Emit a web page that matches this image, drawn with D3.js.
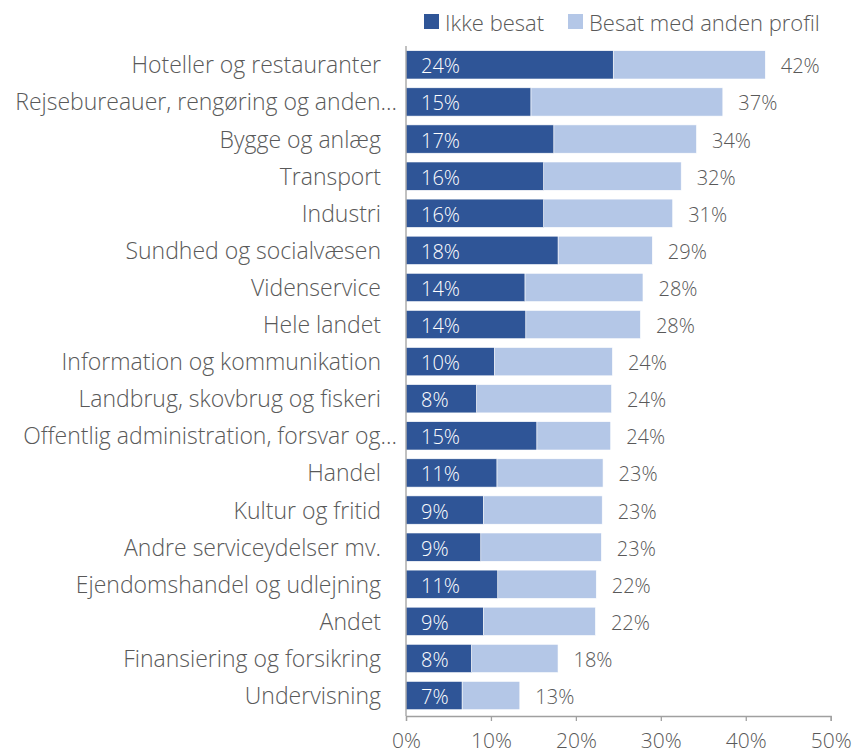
<!DOCTYPE html>
<html>
<head>
<meta charset="utf-8">
<script src="https://cdn.jsdelivr.net/npm/d3@7"></script>
<style>
  html, body { margin: 0; padding: 0; background: #fff; }
  svg { display: block; font-family: "Open Sans", sans-serif; font-weight: 300; }
</style>
</head>
<body>
<svg id="chart" width="854" height="755"></svg>
<script>
const categories = [
  "Hoteller og restauranter",
  "Rejsebureauer, rengøring og anden…",
  "Bygge og anlæg",
  "Transport",
  "Industri",
  "Sundhed og socialvæsen",
  "Videnservice",
  "Hele landet",
  "Information og kommunikation",
  "Landbrug, skovbrug og fiskeri",
  "Offentlig administration, forsvar og…",
  "Handel",
  "Kultur og fritid",
  "Andre serviceydelser mv.",
  "Ejendomshandel og udlejning",
  "Andet",
  "Finansiering og forsikring",
  "Undervisning"
];
// share "Ikke besat" (dark segment), percent
const ikkeBesat = [24.4, 14.7, 17.4, 16.2, 16.2, 17.9, 14.0, 14.1, 10.4, 8.3, 15.4, 10.7, 9.1, 8.8, 10.8, 9.1, 7.7, 6.6];
// total share ("Ikke besat" + "Besat med anden profil"), percent
const total = [42.3, 37.3, 34.2, 32.4, 31.4, 29.0, 27.9, 27.6, 24.3, 24.2, 24.1, 23.2, 23.1, 23.0, 22.4, 22.3, 17.9, 13.4];
const seriesNames = ["Ikke besat", "Besat med anden profil"];
const xTicks = [0, 10, 20, 30, 40, 50];

const colors = ["#2F5597", "#B4C7E7"];
const textColor = "#595959";

const svg = d3.select("#chart");
const x0 = 406, x1 = 830.7;
const x = d3.scaleLinear().domain([0, 50]).range([x0, x1]);
const y = d3.scaleBand().domain(categories).range([46.3, 714.1]).paddingInner(0.237).paddingOuter(0.1185);

const rows = categories.map((c, i) => ({ c, dark: ikkeBesat[i], tot: total[i] }));

// bars
const g = svg.append("g");
g.selectAll("rect.light").data(rows).join("rect")
  .attr("class", "light")
  .attr("x", d => x(d.dark)).attr("y", d => y(d.c))
  .attr("width", d => x(d.tot) - x(d.dark)).attr("height", y.bandwidth())
  .attr("fill", colors[1]).attr("stroke", "#fff").attr("stroke-width", 0.6);
g.selectAll("rect.dark").data(rows).join("rect")
  .attr("class", "dark")
  .attr("x", x(0)).attr("y", d => y(d.c))
  .attr("width", d => x(d.dark) - x(0)).attr("height", y.bandwidth())
  .attr("fill", colors[0]).attr("stroke", "#fff").attr("stroke-width", 0.6);

// value labels
g.selectAll("text.dv").data(rows).join("text")
  .attr("class", "dv")
  .attr("x", x(0) + 15).attr("y", d => y(d.c) + y.bandwidth() / 2 + 8.5)
  .attr("fill", "#fff").attr("font-size", 20)
  .text(d => Math.round(d.dark) + "%");
g.selectAll("text.tv").data(rows).join("text")
  .attr("class", "tv")
  .attr("x", d => x(d.tot) + 15.5).attr("y", d => y(d.c) + y.bandwidth() / 2 + 8.5)
  .attr("fill", textColor).attr("font-size", 20)
  .text(d => Math.round(d.tot) + "%");

// category labels
g.selectAll("text.cat").data(rows).join("text")
  .attr("class", "cat")
  .attr("x", d => d.c.endsWith("…") ? 397 : 381)
  .attr("y", d => y(d.c) + y.bandwidth() / 2 + 8.5)
  .attr("text-anchor", "end")
  .attr("fill", textColor).attr("font-size", 23)
  .text(d => d.c);

// vertical axis line
svg.append("line")
  .attr("x1", x0).attr("x2", x0).attr("y1", 46).attr("y2", 716)
  .attr("stroke", "#a0a0a0").attr("stroke-width", 1.3);

// x axis
const xAxis = d3.axisBottom(x).tickValues(xTicks).tickFormat(d => d + "%").tickSize(5).tickPadding(12);
const ax = svg.append("g").attr("transform", "translate(0,716)").call(xAxis);
ax.select(".domain").attr("stroke", "#a0a0a0").attr("stroke-width", 1.3);
ax.selectAll(".tick line").attr("stroke", "#a0a0a0").attr("stroke-width", 1.3);
ax.attr("font-family", null).attr("font-size", null);
ax.selectAll(".tick text").attr("fill", textColor).attr("font-size", 21);

// legend
const legendItems = [
  { name: seriesNames[0], color: colors[0], x: 424 },
  { name: seriesNames[1], color: colors[1], x: 568 }
];
const lg = svg.append("g");
lg.selectAll("rect").data(legendItems).join("rect")
  .attr("x", d => d.x).attr("y", 14).attr("width", 15).attr("height", 15)
  .attr("fill", d => d.color);
lg.selectAll("text").data(legendItems).join("text")
  .attr("x", d => d.x + 21).attr("y", 30.5)
  .attr("fill", textColor).attr("font-size", 22)
  .text(d => d.name);
</script>
</body>
</html>
